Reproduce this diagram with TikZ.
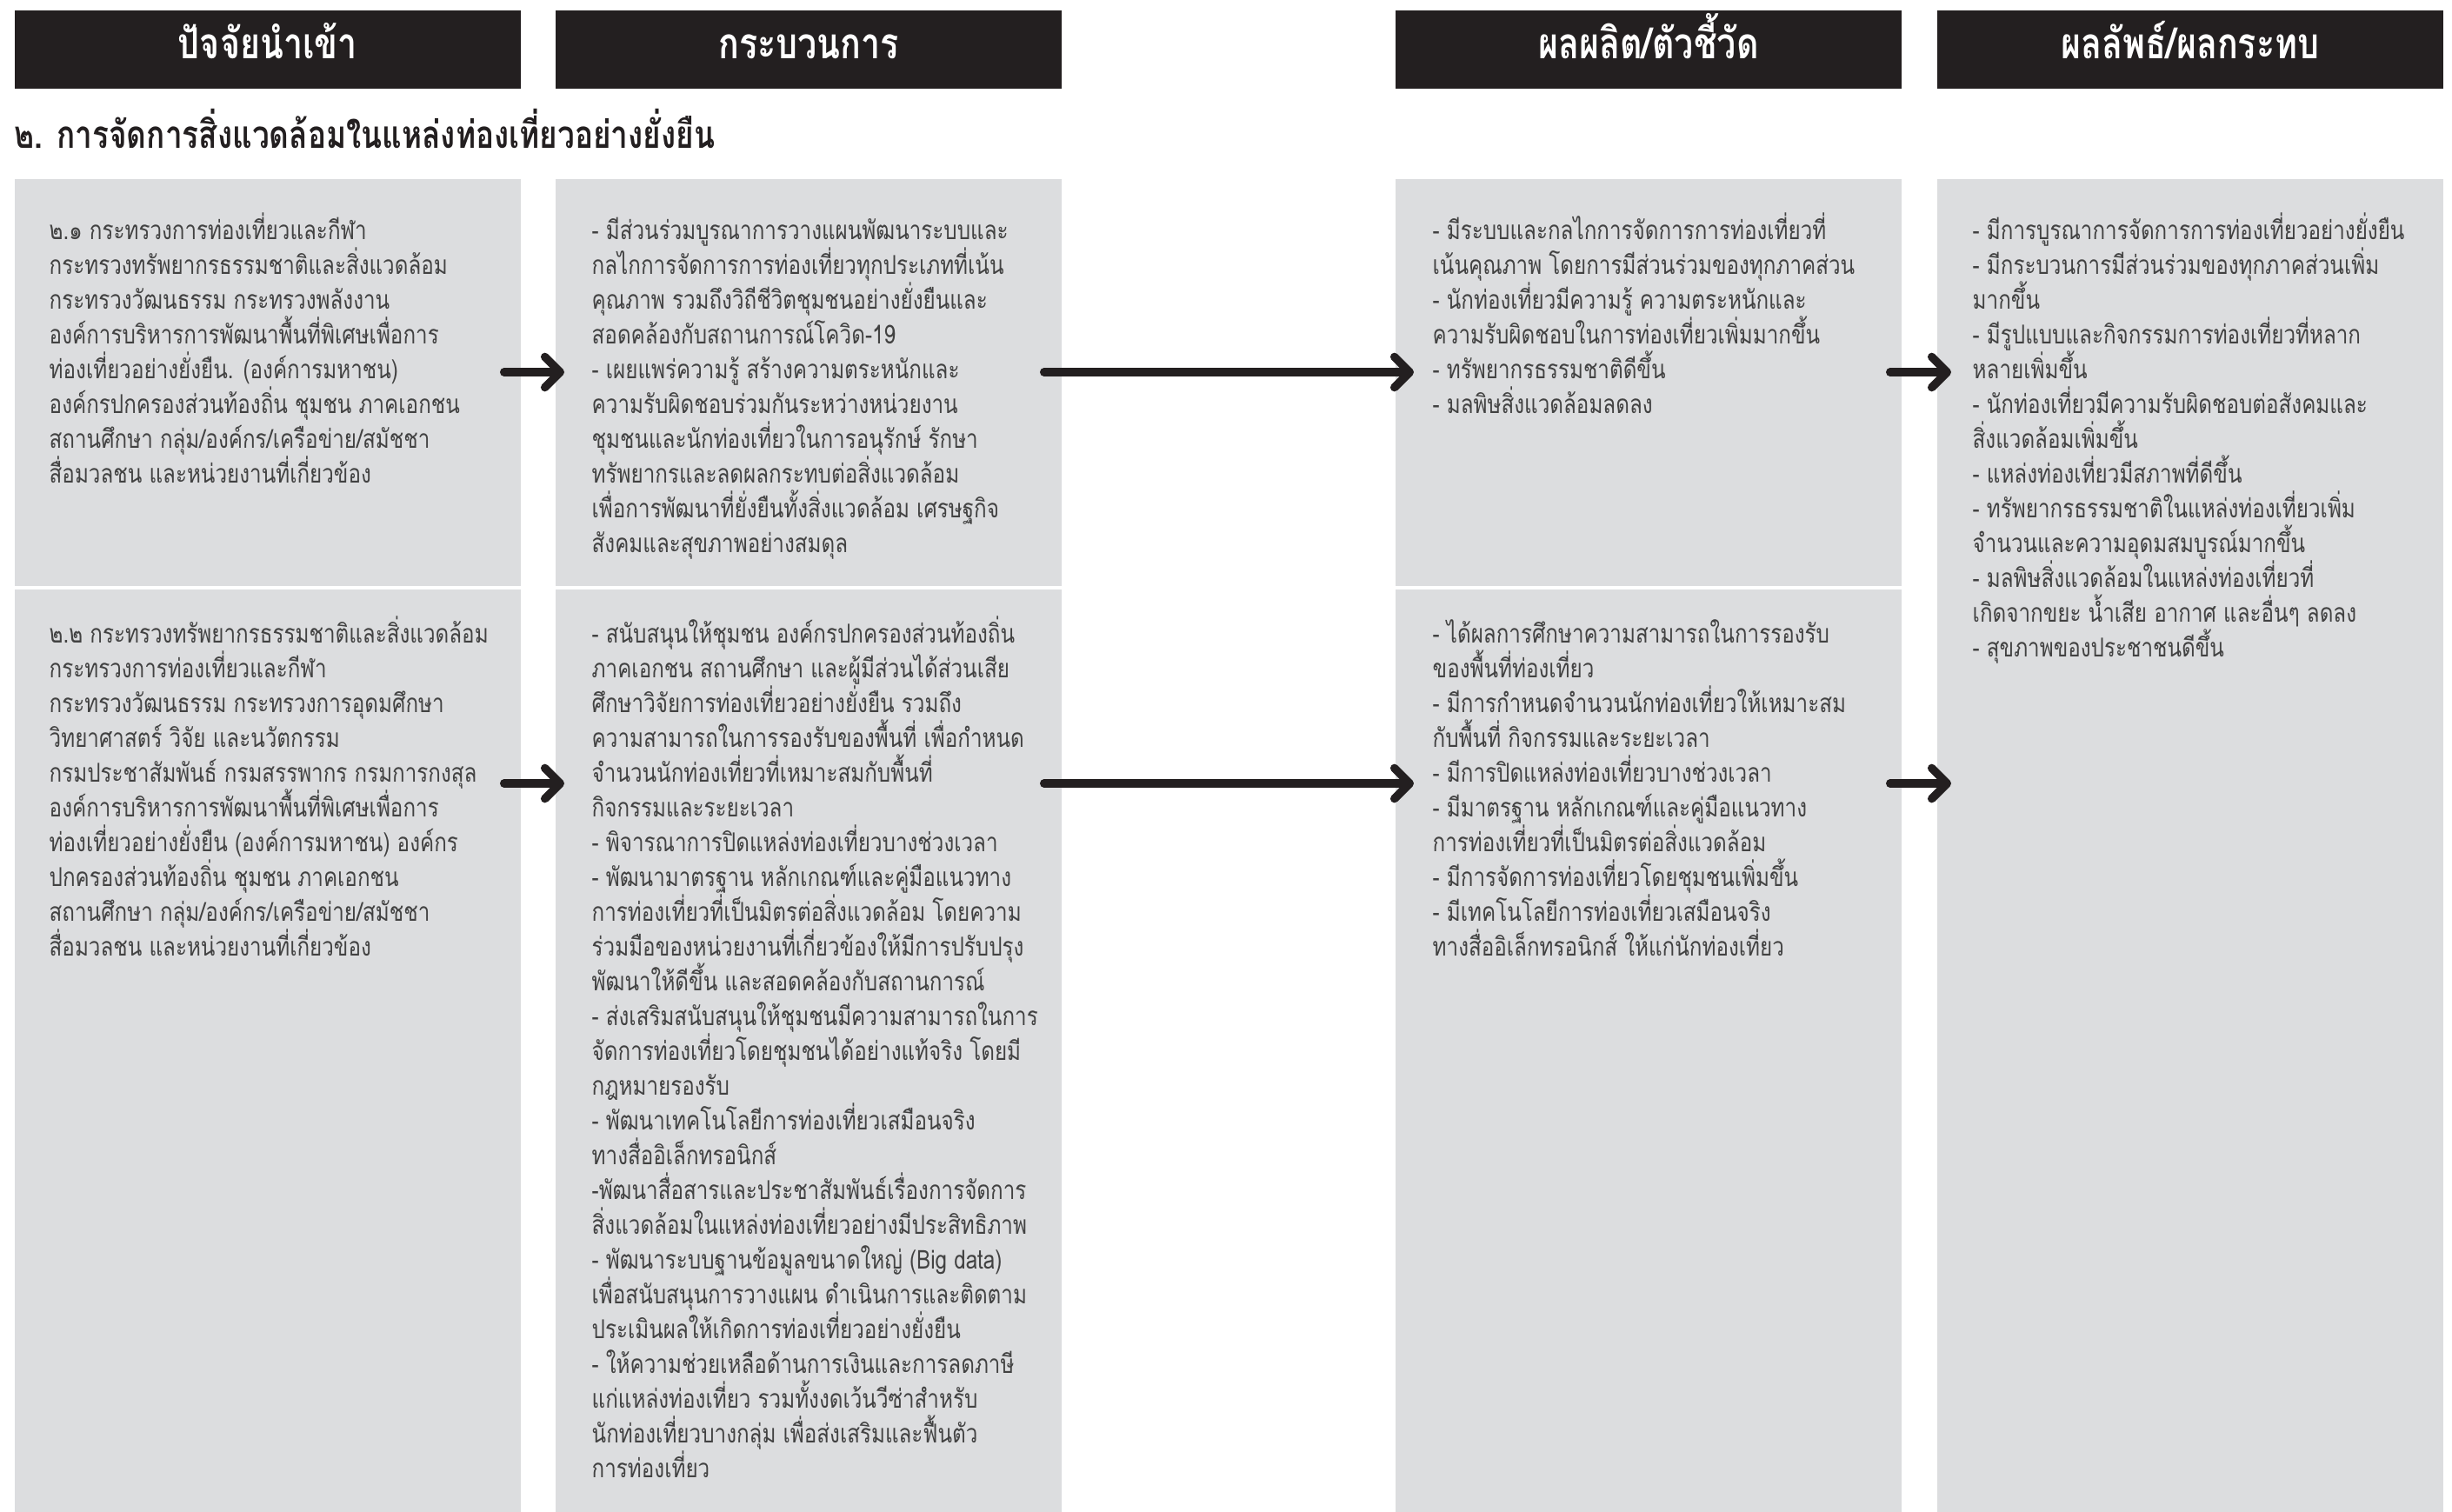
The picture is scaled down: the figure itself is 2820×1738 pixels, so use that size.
\documentclass[tikz,border=0pt]{standalone}
\usepackage{fontspec}
\usetikzlibrary{arrows.meta}
\newfontfamily\thaitext[Script=Thai,FakeStretch=0.81]{Loma}
\newfontfamily\thaicond[Script=Thai,FakeStretch=0.8]{Loma}
\definecolor{ink}{HTML}{231F20}
\definecolor{panel}{HTML}{DCDDDF}
\definecolor{bodytext}{HTML}{424242}
\newcommand{\panellines}[1]{\parbox[t]{8cm}{\lineskiplimit=-100pt\raggedright #1}}
\tikzset{
  header/.style={fill=ink, text=white, inner sep=0, minimum width=5.82cm,
    minimum height=0.9cm, anchor=north west, text height=6.1pt, text depth=0pt,
    font=\thaicond\bfseries\fontsize{14}{16}\selectfont},
  panelbox/.style={fill=panel, inner sep=0, minimum width=5.82cm, anchor=north west},
  body/.style={anchor=base west, inner sep=0, text=bodytext,
    font=\thaitext\fontsize{8.5}{11.38}\selectfont},
  flow/.style={draw=ink, line width=2.7pt, line cap=round,
    -{Straight Barb[length=5pt,width=10pt,round]}},
}
\begin{document}
\begin{tikzpicture}[x=0.01cm, y=-0.01cm]
\useasboundingbox (0,0) rectangle (2820,1738);

% column headers
\node[header] (h1) at (16,11)   {ปัจจัยนำเข้า};
\node[header] (h2) at (638,11)  {กระบวนการ};
\node[header] (h3) at (1604,11) {ผลผลิต/ตัวชี้วัด};
\node[header] (h4) at (2227,11) {ผลลัพธ์/ผลกระทบ};

% section title
\node[anchor=base west, inner sep=0, text=ink,
      font=\thaicond\bfseries\fontsize{12.5}{14}\selectfont] (title) at (16,170)
  {๒. การจัดการสิ่งแวดล้อมในแหล่งท่องเที่ยวอย่างยั่งยืน};

% grey panels
\node[panelbox, minimum height=4.68cm]  (in1)  at (16,205)   {};
\node[panelbox, minimum height=10.61cm] (in2)  at (16,677)   {};
\node[panelbox, minimum height=4.68cm]  (pr1)  at (638,205)  {};
\node[panelbox, minimum height=10.61cm] (pr2)  at (638,677)  {};
\node[panelbox, minimum height=4.68cm]  (out1) at (1604,205) {};
\node[panelbox, minimum height=10.61cm] (out2) at (1604,677) {};
\node[panelbox, minimum height=15.33cm] (res)  at (2227,205) {};

% panel texts
\node[body] (in1t) at (56,275) {\panellines{%
๒.๑ กระทรวงการท่องเที่ยวและกีฬา\\
กระทรวงทรัพยากรธรรมชาติและสิ่งแวดล้อม\\
กระทรวงวัฒนธรรม กระทรวงพลังงาน\\
องค์การบริหารการพัฒนาพื้นที่พิเศษเพื่อการ\\
ท่องเที่ยวอย่างยั่งยืน. (องค์การมหาชน)\\
องค์กรปกครองส่วนท้องถิ่น ชุมชน ภาคเอกชน\\
สถานศึกษา กลุ่ม/องค์กร/เครือข่าย/สมัชชา\\
สื่อมวลชน และหน่วยงานที่เกี่ยวข้อง}};

\node[body] (in2t) at (56,739) {\panellines{%
๒.๒ กระทรวงทรัพยากรธรรมชาติและสิ่งแวดล้อม\\
กระทรวงการท่องเที่ยวและกีฬา\\
กระทรวงวัฒนธรรม กระทรวงการอุดมศึกษา\\
วิทยาศาสตร์ วิจัย และนวัตกรรม\\
กรมประชาสัมพันธ์ กรมสรรพากร กรมการกงสุล\\
องค์การบริหารการพัฒนาพื้นที่พิเศษเพื่อการ\\
ท่องเที่ยวอย่างยั่งยืน (องค์การมหาชน) องค์กร\\
ปกครองส่วนท้องถิ่น ชุมชน ภาคเอกชน\\
สถานศึกษา กลุ่ม/องค์กร/เครือข่าย/สมัชชา\\
สื่อมวลชน และหน่วยงานที่เกี่ยวข้อง}};

\node[body] (pr1t) at (680,275) {\panellines{%
- มีส่วนร่วมบูรณาการวางแผนพัฒนาระบบและ\\
กลไกการจัดการการท่องเที่ยวทุกประเภทที่เน้น\\
คุณภาพ รวมถึงวิถีชีวิตชุมชนอย่างยั่งยืนและ\\
สอดคล้องกับสถานการณ์โควิด-19\\
- เผยแพร่ความรู้ สร้างความตระหนักและ\\
ความรับผิดชอบร่วมกันระหว่างหน่วยงาน\\
ชุมชนและนักท่องเที่ยวในการอนุรักษ์ รักษา\\
ทรัพยากรและลดผลกระทบต่อสิ่งแวดล้อม\\
เพื่อการพัฒนาที่ยั่งยืนทั้งสิ่งแวดล้อม เศรษฐกิจ\\
สังคมและสุขภาพอย่างสมดุล}};

\node[body] (pr2t) at (680,739) {\panellines{%
- สนับสนุนให้ชุมชน องค์กรปกครองส่วนท้องถิ่น\\
ภาคเอกชน สถานศึกษา และผู้มีส่วนได้ส่วนเสีย\\
ศึกษาวิจัยการท่องเที่ยวอย่างยั่งยืน รวมถึง\\
ความสามารถในการรองรับของพื้นที่ เพื่อกำหนด\\
จำนวนนักท่องเที่ยวที่เหมาะสมกับพื้นที่\\
กิจกรรมและระยะเวลา\\
- พิจารณาการปิดแหล่งท่องเที่ยวบางช่วงเวลา\\
- พัฒนามาตรฐาน หลักเกณฑ์และคู่มือแนวทาง\\
การท่องเที่ยวที่เป็นมิตรต่อสิ่งแวดล้อม โดยความ\\
ร่วมมือของหน่วยงานที่เกี่ยวข้องให้มีการปรับปรุง\\
พัฒนาให้ดีขึ้น และสอดคล้องกับสถานการณ์\\
- ส่งเสริมสนับสนุนให้ชุมชนมีความสามารถในการ\\
จัดการท่องเที่ยวโดยชุมชนได้อย่างแท้จริง โดยมี\\
กฎหมายรองรับ\\
- พัฒนาเทคโนโลยีการท่องเที่ยวเสมือนจริง\\
ทางสื่ออิเล็กทรอนิกส์\\
-พัฒนาสื่อสารและประชาสัมพันธ์เรื่องการจัดการ\\
สิ่งแวดล้อมในแหล่งท่องเที่ยวอย่างมีประสิทธิภาพ\\
- พัฒนาระบบฐานข้อมูลขนาดใหญ่ (Big data)\\
เพื่อสนับสนุนการวางแผน ดำเนินการและติดตาม\\
ประเมินผลให้เกิดการท่องเที่ยวอย่างยั่งยืน\\
- ให้ความช่วยเหลือด้านการเงินและการลดภาษี\\
แก่แหล่งท่องเที่ยว รวมทั้งงดเว้นวีซ่าสำหรับ\\
นักท่องเที่ยวบางกลุ่ม เพื่อส่งเสริมและฟื้นตัว\\
การท่องเที่ยว}};

\node[body] (out1t) at (1647,275) {\panellines{%
- มีระบบและกลไกการจัดการการท่องเที่ยวที่\\
เน้นคุณภาพ โดยการมีส่วนร่วมของทุกภาคส่วน\\
- นักท่องเที่ยวมีความรู้ ความตระหนักและ\\
ความรับผิดชอบในการท่องเที่ยวเพิ่มมากขึ้น\\
- ทรัพยากรธรรมชาติดีขึ้น\\
- มลพิษสิ่งแวดล้อมลดลง}};

\node[body] (out2t) at (1647,739) {\panellines{%
- ได้ผลการศึกษาความสามารถในการรองรับ\\
ของพื้นที่ท่องเที่ยว\\
- มีการกำหนดจำนวนนักท่องเที่ยวให้เหมาะสม\\
กับพื้นที่ กิจกรรมและระยะเวลา\\
- มีการปิดแหล่งท่องเที่ยวบางช่วงเวลา\\
- มีมาตรฐาน หลักเกณฑ์และคู่มือแนวทาง\\
การท่องเที่ยวที่เป็นมิตรต่อสิ่งแวดล้อม\\
- มีการจัดการท่องเที่ยวโดยชุมชนเพิ่มขึ้น\\
- มีเทคโนโลยีการท่องเที่ยวเสมือนจริง\\
ทางสื่ออิเล็กทรอนิกส์ ให้แก่นักท่องเที่ยว}};

\node[body] (rest) at (2268,275) {\panellines{%
- มีการบูรณาการจัดการการท่องเที่ยวอย่างยั่งยืน\\
- มีกระบวนการมีส่วนร่วมของทุกภาคส่วนเพิ่ม\\
มากขึ้น\\
- มีรูปแบบและกิจกรรมการท่องเที่ยวที่หลาก\\
หลายเพิ่มขึ้น\\
- นักท่องเที่ยวมีความรับผิดชอบต่อสังคมและ\\
สิ่งแวดล้อมเพิ่มขึ้น\\
- แหล่งท่องเที่ยวมีสภาพที่ดีขึ้น\\
- ทรัพยากรธรรมชาติในแหล่งท่องเที่ยวเพิ่ม\\
จำนวนและความอุดมสมบูรณ์มากขึ้น\\
- มลพิษสิ่งแวดล้อมในแหล่งท่องเที่ยวที่\\
เกิดจากขยะ น้ำเสีย อากาศ และอื่นๆ ลดลง\\
- สุขภาพของประชาชนดีขึ้น}};

% flow arrows
\coordinate (rowA) at (0,428);
\coordinate (rowB) at (0,901);
\draw[flow] ([xshift=-0.20cm]in1.east |- rowA) -- ([xshift=0.11cm]pr1.west |- rowA);
\draw[flow] ([xshift=-0.21cm]pr1.east |- rowA) -- ([xshift=0.22cm]out1.west |- rowA);
\draw[flow] ([xshift=-0.14cm]out1.east |- rowA) -- ([xshift=0.17cm]res.west |- rowA);
\draw[flow] ([xshift=-0.20cm]in2.east |- rowB) -- ([xshift=0.11cm]pr2.west |- rowB);
\draw[flow] ([xshift=-0.21cm]pr2.east |- rowB) -- ([xshift=0.22cm]out2.west |- rowB);
\draw[flow] ([xshift=-0.14cm]out2.east |- rowB) -- ([xshift=0.17cm]res.west |- rowB);
\end{tikzpicture}
\end{document}
